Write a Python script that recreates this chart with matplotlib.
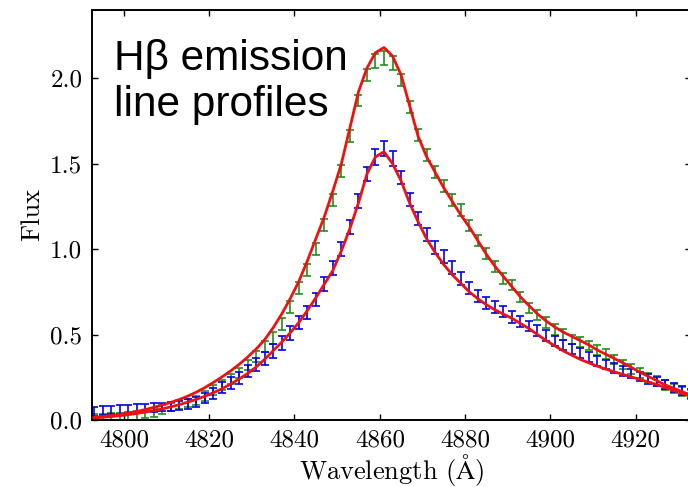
import matplotlib
matplotlib.use("Agg")
import matplotlib.pyplot as plt

plt.rcParams["font.family"] = "serif"
plt.rcParams["font.serif"] = ["cmr10"]
plt.rcParams["mathtext.fontset"] = "cm"
plt.rcParams["axes.unicode_minus"] = False
plt.rcParams["axes.formatter.use_mathtext"] = False

# wavelength grid of the binned spectra (Angstrom)
wavelength = [4793, 4795, 4797, 4799, 4801, 4803, 4805, 4807, 4809, 4811,
              4813, 4815, 4817, 4819, 4821, 4823, 4825, 4827, 4829, 4831,
              4833, 4835, 4837, 4839, 4841, 4843, 4845, 4847, 4849, 4851,
              4853, 4855, 4857, 4859, 4861, 4863, 4865, 4867, 4869, 4871,
              4873, 4875, 4877, 4879, 4881, 4883, 4885, 4887, 4889, 4891,
              4893, 4895, 4897, 4899, 4901, 4903, 4905, 4907, 4909, 4911,
              4913, 4915, 4917, 4919, 4921, 4923, 4925, 4927, 4929, 4931,
              4933]

# first epoch: measured flux, uncertainty and fitted profile
flux_a = [0.010, 0.012, 0.015, 0.018, 0.022, 0.027, 0.034, 0.045, 0.060, 0.075,
          0.090, 0.100, 0.115, 0.140, 0.175, 0.205, 0.240, 0.275, 0.320, 0.370,
          0.430, 0.480, 0.560, 0.660, 0.770, 0.880, 1.000, 1.140, 1.290, 1.460,
          1.660, 1.870, 2.020, 2.100, 2.120, 2.090, 1.990, 1.830, 1.670, 1.550,
          1.450, 1.370, 1.290, 1.230, 1.140, 1.050, 0.975, 0.900, 0.830, 0.790,
          0.720, 0.655, 0.615, 0.570, 0.530, 0.500, 0.470, 0.455, 0.435, 0.410,
          0.385, 0.355, 0.325, 0.300, 0.275, 0.250, 0.228, 0.205, 0.185, 0.167,
          0.150]
err_a = [0.025, 0.025, 0.025, 0.025, 0.025, 0.025, 0.025, 0.025, 0.025, 0.025,
         0.025, 0.025, 0.028, 0.028, 0.028, 0.030, 0.030, 0.030, 0.030, 0.032,
         0.032, 0.035, 0.035, 0.035, 0.035, 0.035, 0.035, 0.035, 0.035, 0.035,
         0.035, 0.035, 0.035, 0.040, 0.040, 0.040, 0.035, 0.035, 0.035, 0.035,
         0.035, 0.035, 0.035, 0.035, 0.032, 0.032, 0.032, 0.032, 0.032, 0.030,
         0.030, 0.030, 0.030, 0.030, 0.030, 0.030, 0.028, 0.028, 0.028, 0.028,
         0.028, 0.028, 0.028, 0.028, 0.027, 0.027, 0.027, 0.027, 0.027, 0.027,
         0.027]
model_a = [0.015, 0.020, 0.026, 0.032, 0.040, 0.050, 0.061, 0.074, 0.088, 0.103,
           0.120, 0.140, 0.163, 0.190, 0.220, 0.252, 0.287, 0.325, 0.368, 0.415,
           0.470, 0.540, 0.620, 0.710, 0.810, 0.930, 1.060, 1.190, 1.340, 1.500,
           1.710, 1.920, 2.060, 2.150, 2.180, 2.130, 2.020, 1.840, 1.660, 1.540,
           1.450, 1.360, 1.280, 1.200, 1.130, 1.050, 0.970, 0.900, 0.840, 0.780,
           0.720, 0.670, 0.620, 0.580, 0.545, 0.515, 0.490, 0.465, 0.440, 0.410,
           0.385, 0.360, 0.335, 0.308, 0.280, 0.255, 0.230, 0.205, 0.185, 0.165,
           0.145]

# second epoch: measured flux, uncertainty and fitted profile
flux_b = [0.050, 0.055, 0.058, 0.060, 0.063, 0.066, 0.070, 0.072, 0.075, 0.080,
          0.085, 0.095, 0.105, 0.130, 0.155, 0.190, 0.215, 0.245, 0.285, 0.325,
          0.360, 0.405, 0.450, 0.510, 0.570, 0.630, 0.705, 0.795, 0.890, 1.000,
          1.130, 1.280, 1.440, 1.540, 1.590, 1.530, 1.420, 1.290, 1.180, 1.085,
          1.010, 0.955, 0.890, 0.830, 0.775, 0.725, 0.685, 0.660, 0.635, 0.605,
          0.578, 0.550, 0.522, 0.495, 0.463, 0.437, 0.415, 0.390, 0.370, 0.345,
          0.325, 0.305, 0.288, 0.272, 0.256, 0.240, 0.224, 0.207, 0.190, 0.173,
          0.155]
err_b = [0.025, 0.025, 0.025, 0.025, 0.025, 0.025, 0.025, 0.025, 0.025, 0.025,
         0.028, 0.028, 0.030, 0.030, 0.032, 0.032, 0.035, 0.035, 0.035, 0.038,
         0.038, 0.040, 0.040, 0.040, 0.040, 0.040, 0.040, 0.040, 0.040, 0.040,
         0.040, 0.040, 0.040, 0.045, 0.045, 0.045, 0.040, 0.040, 0.040, 0.040,
         0.040, 0.038, 0.038, 0.038, 0.035, 0.035, 0.035, 0.035, 0.035, 0.035,
         0.032, 0.032, 0.032, 0.032, 0.030, 0.030, 0.030, 0.030, 0.030, 0.028,
         0.028, 0.028, 0.028, 0.027, 0.027, 0.027, 0.027, 0.027, 0.027, 0.027,
         0.027]
model_b = [0.012, 0.016, 0.020, 0.025, 0.031, 0.038, 0.046, 0.055, 0.065, 0.077,
           0.090, 0.105, 0.121, 0.139, 0.160, 0.183, 0.210, 0.240, 0.272, 0.310,
           0.355, 0.405, 0.455, 0.510, 0.570, 0.640, 0.715, 0.795, 0.875, 0.990,
           1.120, 1.270, 1.440, 1.540, 1.570, 1.500, 1.400, 1.270, 1.160, 1.060,
           0.980, 0.910, 0.850, 0.800, 0.750, 0.710, 0.675, 0.645, 0.620, 0.595,
           0.565, 0.535, 0.500, 0.465, 0.435, 0.405, 0.380, 0.355, 0.335, 0.315,
           0.298, 0.282, 0.267, 0.252, 0.238, 0.222, 0.207, 0.190, 0.172, 0.155,
           0.137]

x_ticks = [4800, 4820, 4840, 4860, 4880, 4900, 4920]
y_ticks = [0.0, 0.5, 1.0, 1.5, 2.0]

fig = plt.figure(figsize=(6.88, 4.87), dpi=100)
ax = fig.add_axes([0.1337, 0.1376, 0.8700, 0.8420])

bar_kw = dict(fmt="none", capsize=3.0, elinewidth=1.2, capthick=1.2, zorder=2)
ax.errorbar(wavelength, flux_a, yerr=err_a, ecolor="#1f8f1f", **bar_kw)
ax.errorbar(wavelength, flux_b, yerr=err_b, ecolor="#0000ee", **bar_kw)
ax.plot(wavelength, model_a, color="#ee1111", lw=2.0, zorder=3)
ax.plot(wavelength, model_b, color="#ee1111", lw=2.0, zorder=3)

ax.set_xlim(4792.5, 4932.9)
ax.set_ylim(0.0, 2.4)
ax.set_xticks(x_ticks)
ax.set_yticks(y_ticks)
ax.set_xticklabels([str(t) for t in x_ticks])
ax.set_yticklabels([f"{t:.1f}" for t in y_ticks])

ax.tick_params(direction="in", top=True, right=True, length=4.5, width=1.0,
               labelsize=18)
ax.tick_params(axis="x", pad=7)
ax.tick_params(axis="y", pad=7)
for s in ax.spines.values():
    s.set_linewidth(1.4)

ax.set_xlabel(r"Wavelength $(\mathrm{\AA})$", fontsize=19, labelpad=0)
ax.set_ylabel("Flux", fontsize=19, labelpad=4)

fig.text(114 / 688, 1 - 39 / 487, "H\u03b2 emission\nline profiles",
         family="Liberation Sans", fontsize=30.5, ha="left", va="top",
         linespacing=1.18)

fig.savefig("out.png", dpi=100)
